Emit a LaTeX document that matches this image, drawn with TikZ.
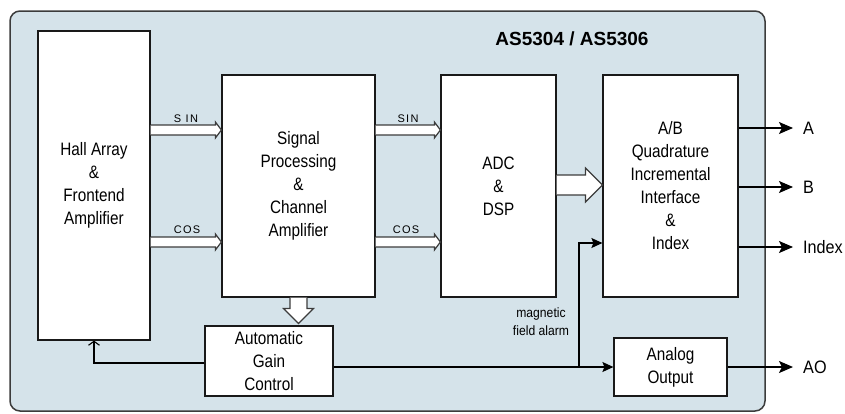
\documentclass[tikz,border=0pt]{standalone}
\usepackage{fontspec}
\setmainfont{Liberation Sans}
\newfontfamily\boxfont[FakeStretch=0.85]{Liberation Sans}
\newfontfamily\outfont[FakeStretch=0.9]{Liberation Sans}
\newfontfamily\sigfont[LetterSpace=12]{Liberation Sans}
\usetikzlibrary{calc,arrows.meta}
\definecolor{panel}{RGB}{213,227,234}
\definecolor{edgec}{RGB}{60,60,60}
\newcommand\hollowR[6]{%
  \draw[hollow] (#1 |- 0,#3-#4) -- ($(#2 |- 0,#3-#4)+(-#6,0)$) -- ($(#2 |- 0,#3-#5)+(-#6,0)$)
    -- (#2 |- 0,#3) -- ($(#2 |- 0,#3+#5)+(-#6,0)$) -- ($(#2 |- 0,#3+#4)+(-#6,0)$) -- (#1 |- 0,#3+#4);}
\begin{document}
\begin{tikzpicture}[x=1pt,y=-1pt,
  blk/.style={draw=black!90,line width=1.2pt,fill=white,inner sep=0pt,align=center,
    font=\boxfont\fontsize{18}{23}\selectfont},
  hollow/.style={draw=edgec,line width=1.2pt,fill=white,line join=miter},
  sig/.style={font=\sigfont\fontsize{11}{13}\selectfont,inner sep=0pt,anchor=base},
  outl/.style={font=\outfont\fontsize{18}{20}\selectfont,anchor=west,inner xsep=10pt,inner ysep=0pt},
  outarrow/.style={line width=1.2pt,-{Stealth[length=14pt,width=12pt,inset=3pt]}},
  inarrow/.style={line width=1.2pt,-{Stealth[length=11pt,width=10pt,inset=2pt]}},
  fbarrow/.style={line width=1.1pt,-{Straight Barb[length=4pt,width=11pt]}}]
\useasboundingbox (0,0) rectangle (845,413);
\path[draw=edgec,fill=panel,line width=1.5pt,rounded corners=10pt] (10,11) rectangle (765,411);

\node[font=\bfseries\fontsize{19}{22}\selectfont,anchor=base] (title) at (572,45) {AS5304 / AS5306};

\node[blk,minimum width=112pt,minimum height=309pt] (hall) at (94,185.5) {Hall Array\\\&\\Frontend\\Amplifier};
\node[blk,minimum width=153pt,minimum height=222pt] (sp) at (298.5,186) {Signal\\Processing\\\&\\Channel\\Amplifier};
\node[blk,minimum width=115pt,minimum height=222pt] (adc) at (498.5,186) {ADC\\\&\\DSP};
\node[blk,minimum width=135pt,minimum height=222pt] (ab) at (670.5,186) {A/B\\Quadrature\\Incremental\\Interface\\\&\\Index};
\node[blk,minimum width=128pt,minimum height=70pt] (agc) at (269,361) {Automatic\\Gain\\Control};
\node[blk,minimum width=113pt,minimum height=58pt] (ao) at (670.5,367) {Analog\\Output};

% signal labels
\node[sig] (l1) at (186,122) {S IN};
\node[sig] (l2) at (187,233) {COS};
\node[sig] (l3) at (408,122) {SIN};
\node[sig] (l4) at (406,233) {COS};
\node[font=\outfont\fontsize{13.5}{18}\selectfont,align=center,inner sep=0pt] (alarm) at (541,322) {magnetic\\field alarm};

% hollow bus arrows
\hollowR{hall.east}{sp.west}{130}{5}{8}{6}
\hollowR{hall.east}{sp.west}{242}{5}{8}{6}
\hollowR{sp.east}{adc.west}{130}{5}{8}{6}
\hollowR{sp.east}{adc.west}{242}{5}{8}{6}
\hollowR{adc.east}{ab.west}{185}{10}{17}{17}
\draw[hollow] ($(sp.south)+(-8.5,0)$) -- ($(sp.south |- agc.north)+(-8.5,-17)$) -- ($(sp.south |- agc.north)+(-15,-17)$)
  -- ($(sp.south |- agc.north)+(0,-2)$) -- ($(sp.south |- agc.north)+(15,-17)$) -- ($(sp.south |- agc.north)+(8.5,-17)$)
  -- ($(sp.south)+(8.5,0)$);

% outputs
\node[outl] (oA) at (793,128) {A};
\node[outl] (oB) at (793,187) {B};
\node[outl] (oI) at (793,247) {Index};
\node[outl] (oAO) at (793,367) {AO};
\draw[outarrow] (ab.east |- oA) -- (oA.west);
\draw[outarrow] (ab.east |- oB) -- (oB.west);
\draw[outarrow] (ab.east |- oI) -- (oI.west);
\draw[outarrow] (ao.east) -- (oAO.west);

% AGC connections
\coordinate (br) at (579,367);
\coordinate (alarmin) at (ab.west |- 0,243);
\draw[inarrow] (agc.east |- ao.west) -- (ao.west);
\draw[inarrow] (br) |- (alarmin);
\draw[fbarrow] (agc.west |- 0,363) -| (hall.south);
\end{tikzpicture}
\end{document}
